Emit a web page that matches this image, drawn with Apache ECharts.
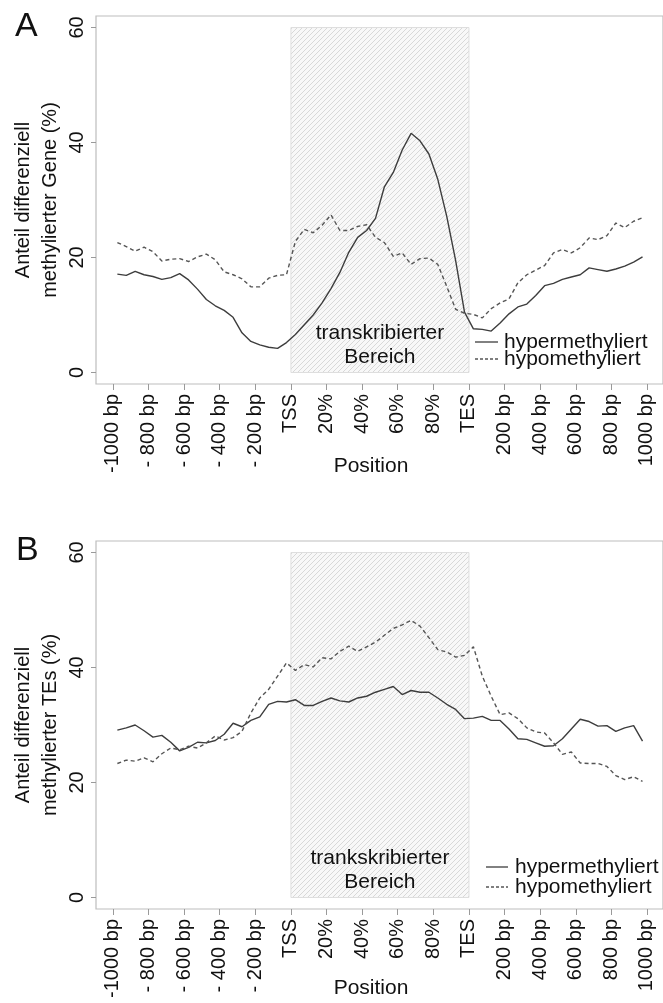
<!DOCTYPE html>
<html>
<head>
<meta charset="utf-8">
<style>
  html, body { margin: 0; padding: 0; background: #ffffff; }
  #chart { width: 663px; height: 1003px; }
</style>
<script src="https://cdn.jsdelivr.net/npm/echarts@6/dist/echarts.min.js"></script>
</head>
<body>
<div id="chart"></div>
<script>
// Tick labels along the position axis (upstream, gene body, downstream)
const tickLabels = ['-1000 bp', '- 800 bp', '- 600 bp', '- 400 bp', '- 200 bp',
  'TSS', '20%', '40%', '60%', '80%', 'TES',
  '200 bp', '400 bp', '600 bp', '800 bp', '1000 bp'];
const tickPositions = [0, 4, 8, 12, 16, 20, 24, 28, 32, 36, 40, 44, 48, 52, 56, 60];
const yTicks = [0, 20, 40, 60];

// 60 bins: 20 upstream (50 bp), 20 gene body (5 %), 20 downstream (50 bp)
const genesHyper = [17.1, 16.9, 17.6, 17.0, 16.7, 16.2, 16.5, 17.2, 16.1, 14.5,
  12.7, 11.6, 10.8, 9.6, 6.9, 5.4, 4.8, 4.4, 4.2, 5.2,
  6.6, 8.3, 10.0, 12.1, 14.6, 17.4, 20.9, 23.5, 24.7, 26.8,
  32.3, 34.8, 38.7, 41.6, 40.3, 38.0, 33.6, 27.2, 19.5, 10.5,
  7.6, 7.5, 7.2, 8.6, 10.2, 11.4, 11.9, 13.4, 15.1, 15.5,
  16.2, 16.6, 17.0, 18.2, 17.9, 17.6, 18.0, 18.5, 19.2, 20.1];
const genesHypo = [22.6, 21.9, 21.1, 21.8, 21.0, 19.4, 19.7, 19.8, 19.3, 20.1,
  20.6, 19.6, 17.5, 17.0, 16.3, 14.9, 14.9, 16.4, 16.9, 17.0,
  22.8, 24.9, 24.3, 25.6, 27.4, 24.7, 24.7, 25.4, 25.7, 23.5,
  22.6, 20.2, 20.8, 18.8, 19.8, 19.9, 18.8, 15.0, 11.0, 10.3,
  10.1, 9.5, 11.1, 12.1, 12.8, 15.6, 17.0, 17.8, 18.6, 20.8,
  21.4, 20.8, 21.7, 23.4, 23.1, 23.8, 26.0, 25.2, 26.3, 26.9];
const tesHyper = [29.1, 29.5, 30.0, 29.0, 27.9, 28.2, 27.0, 25.5, 26.1, 27.0,
  26.9, 27.3, 28.4, 30.3, 29.7, 30.8, 31.4, 33.6, 34.1, 34.0,
  34.4, 33.4, 33.4, 34.1, 34.7, 34.2, 34.0, 34.7, 35.0, 35.7,
  36.2, 36.7, 35.3, 36.0, 35.7, 35.7, 34.7, 33.6, 32.7, 31.1,
  31.2, 31.5, 30.8, 30.8, 29.3, 27.6, 27.5, 26.9, 26.3, 26.4,
  27.6, 29.3, 31.0, 30.6, 29.8, 29.9, 28.9, 29.5, 29.9, 27.2];
const tesHypo = [23.3, 23.9, 23.7, 24.3, 23.6, 25.0, 26.0, 25.7, 26.3, 26.0,
  26.9, 28.1, 27.4, 27.8, 28.9, 32.1, 34.7, 36.2, 38.5, 40.8,
  39.5, 40.5, 40.1, 41.7, 41.5, 42.8, 43.7, 42.8, 43.6, 44.4,
  45.6, 46.8, 47.4, 48.2, 47.2, 45.2, 43.1, 42.7, 41.8, 42.1,
  43.6, 38.5, 35.0, 31.8, 32.1, 31.1, 29.5, 28.8, 28.6, 26.9,
  24.9, 25.3, 23.4, 23.3, 23.3, 22.8, 21.2, 20.5, 21.0, 20.2];

const NAME_HYPER = 'hypermethyliert';
const NAME_HYPO = 'hypomethyliert';
const FONT = '"Liberation Sans", Arial, Helvetica, sans-serif';
const INK = '#111111';
const SOLID = '#3d3d3d';
const DASHED = '#555555';
const DASH = [4, 3];

// pair each bin value with its bin centre on the position axis
const pts = arr => arr.map((v, i) => [i + 0.5, v]);

// diagonal hatching for the transcribed region
function hatchPattern() {
  const s = 5;
  const c = document.createElement('canvas');
  c.width = s; c.height = s;
  const g = c.getContext('2d');
  g.fillStyle = '#f8f8f8';
  g.fillRect(0, 0, s, s);
  g.strokeStyle = '#d4d4d4';
  g.lineWidth = 0.9;
  g.beginPath();
  g.moveTo(0, s); g.lineTo(s, 0);
  g.moveTo(-s, s); g.lineTo(s, -s);
  g.moveTo(0, 2 * s); g.lineTo(2 * s, 0);
  g.stroke();
  return c;
}
const hatch = { image: hatchPattern(), repeat: 'repeat' };

const grids = [
  { left: 96, top: 16, width: 570, height: 368 },
  { left: 96, top: 541, width: 570, height: 368 }
];

function xAxisFor(gi) {
  return {
    type: 'value', gridIndex: gi, min: -1.9, max: 61.8,
    axisLine: { show: false, onZero: false },
    splitLine: { show: false },
    axisTick: { show: true, customValues: tickPositions, length: 6, lineStyle: { color: '#9a9a9a' } },
    axisLabel: {
      show: true, customValues: tickPositions, rotate: 90, margin: 10,
      fontFamily: FONT, fontSize: 20, color: INK,
      formatter: v => tickLabels[tickPositions.indexOf(Math.round(v))] || ''
    }
  };
}
function yAxisFor(gi) {
  return {
    type: 'value', gridIndex: gi, min: -2, max: 62,
    axisLine: { show: false, onZero: false },
    splitLine: { show: false },
    axisTick: { show: true, customValues: yTicks, length: 5, lineStyle: { color: '#9a9a9a' } },
    axisLabel: {
      show: true, customValues: yTicks, rotate: 90, margin: 9,
      fontFamily: FONT, fontSize: 20, color: INK
    }
  };
}

function regionSeries(gi, text) {
  return {
    type: 'line', name: 'region' + gi, xAxisIndex: gi, yAxisIndex: gi,
    data: [], silent: true, z: 1,
    markArea: {
      silent: true,
      itemStyle: { color: hatch, borderColor: '#dedede', borderWidth: 1 },
      label: {
        show: true, position: 'insideBottom', distance: 4,
        formatter: text, fontFamily: FONT, fontSize: 21, lineHeight: 24, color: INK
      },
      data: [[{ xAxis: 20, yAxis: 0 }, { xAxis: 40, yAxis: 60 }]]
    }
  };
}
function lineSeries(gi, name, values, dashed) {
  return {
    type: 'line', name, xAxisIndex: gi, yAxisIndex: gi, z: 3,
    data: pts(values), showSymbol: false, symbol: 'none', smooth: false,
    lineStyle: { color: dashed ? DASHED : SOLID, width: 1.4, type: dashed ? DASH : 'solid' }
  };
}

// key: short line sample followed by the series name
function keyEntries(x0, x1, textX, ys) {
  const out = [];
  [[NAME_HYPER, false], [NAME_HYPO, true]].forEach(([name, dashed], k) => {
    out.push({ type: 'line', shape: { x1: x0, y1: ys[k], x2: x1, y2: ys[k] },
      style: { stroke: dashed ? DASHED : SOLID, lineWidth: 1.3, lineDash: dashed ? [3, 2] : null } });
    out.push({ type: 'text', x: textX, y: ys[k],
      style: { text: name, font: '21px ' + FONT, fill: INK, align: 'left', verticalAlign: 'middle' } });
  });
  return out;
}

const chart = echarts.init(document.getElementById('chart'), null, { renderer: 'canvas' });
chart.setOption({
  animation: false,
  backgroundColor: '#ffffff',
  grid: grids.map(g => Object.assign({ show: true, borderColor: '#bdbdbd', borderWidth: 1.2, backgroundColor: 'transparent' }, g)),
  xAxis: [xAxisFor(0), xAxisFor(1)],
  yAxis: [yAxisFor(0), yAxisFor(1)],
  series: [
    regionSeries(0, 'transkribierter\nBereich'),
    lineSeries(0, NAME_HYPER, genesHyper, false),
    lineSeries(0, NAME_HYPO, genesHypo, true),
    regionSeries(1, 'trankskribierter\nBereich'),
    lineSeries(1, NAME_HYPER, tesHyper, false),
    lineSeries(1, NAME_HYPO, tesHypo, true)
  ],
  graphic: [
    { type: 'text', left: 15, top: 10, style: { text: 'A', font: '34px ' + FONT, fill: INK } },
    { type: 'text', left: 16, top: 534, style: { text: 'B', font: '34px ' + FONT, fill: INK } },
    { type: 'text', x: 37, y: 200, rotation: Math.PI / 2,
      style: { text: 'Anteil differenziell\nmethylierter Gene (%)', font: '20px ' + FONT, fill: INK,
        align: 'center', verticalAlign: 'middle', lineHeight: 27 } },
    { type: 'text', x: 37, y: 725, rotation: Math.PI / 2,
      style: { text: 'Anteil differenziell\nmethylierter TEs (%)', font: '20px ' + FONT, fill: INK,
        align: 'center', verticalAlign: 'middle', lineHeight: 27 } },
    { type: 'text', x: 371, y: 466,
      style: { text: 'Position', font: '21px ' + FONT, fill: INK, align: 'center', verticalAlign: 'middle' } },
    { type: 'text', x: 371, y: 988,
      style: { text: 'Position', font: '21px ' + FONT, fill: INK, align: 'center', verticalAlign: 'middle' } }
  ].concat(keyEntries(475, 498, 504, [342, 359]), keyEntries(486, 508, 515, [867, 887]))
});
</script>
</body>
</html>
